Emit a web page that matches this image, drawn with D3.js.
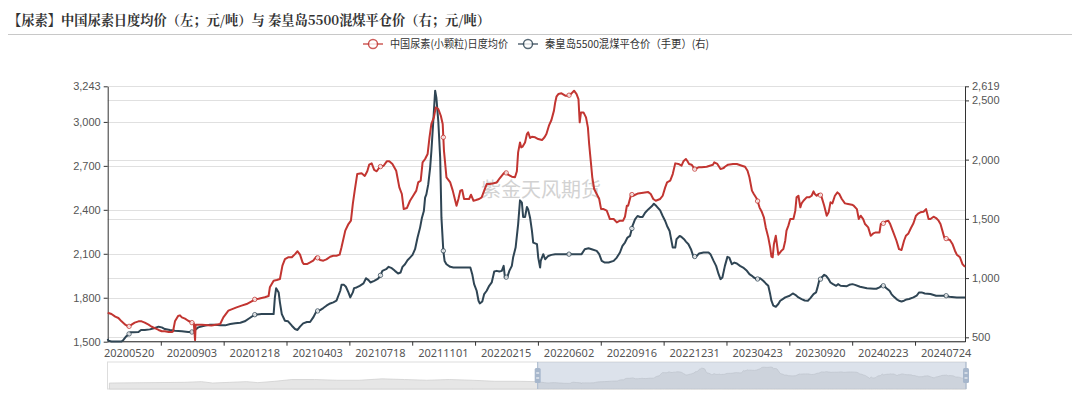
<!DOCTYPE html>
<html>
<head>
<meta charset="utf-8">
<script src="https://cdn.jsdelivr.net/npm/d3@7"></script>
<style>
  body { margin: 0; background: #fff; }
  svg { display: block; font-family: "Noto Sans", "Noto Sans CJK SC", sans-serif; }
</style>
</head>
<body>
<svg id="chart" width="1080" height="394"></svg>
<script>
// category axis: 1365 daily categories in view, labelled every 100
const xLabels = ['20200520','20200903','20201218','20210403','20210718','20211101','20220215',
                 '20220602','20220916','20221231','20230423','20230920','20240223','20240724'];
const leftTicks = [1500, 1800, 2100, 2400, 2700, 3000, 3243];
const rightTicks = [500, 1000, 1500, 2000, 2500, 2619];

// [category index, value]
const urea = [[0,1698],[6,1689],[12,1671],[17,1662],[22,1639],[28,1616],[33,1602],[38,1616],[43,1630],[49,1639],[54,1639],[59,1630],[65,1616],[70,1602],[75,1593],[81,1580],[86,1571],[91,1571],[97,1566],[102,1566],[104,1571],[107,1639],[112,1675],[115,1680],[118,1666],[123,1657],[128,1643],[134,1630],[137,1625],[139,1511],[140,1616],[150,1616],[165,1611],[179,1621],[184,1666],[192,1712],[197,1721],[205,1734],[213,1746],[221,1757],[229,1775],[234,1789],[240,1793],[250,1803],[256,1812],[258,1871],[264,1916],[269,1921],[274,1928],[278,2019],[282,2064],[287,2076],[293,2076],[298,2098],[302,2117],[306,2094],[310,2041],[312,2030],[317,2030],[322,2041],[327,2053],[332,2080],[338,2057],[343,2053],[348,2062],[354,2080],[359,2087],[364,2087],[369,2094],[372,2144],[378,2258],[383,2303],[387,2326],[390,2440],[393,2531],[397,2644],[404,2649],[409,2631],[413,2663],[416,2708],[420,2717],[424,2672],[428,2663],[433,2694],[439,2701],[444,2731],[448,2731],[453,2713],[459,2667],[464,2553],[468,2508],[471,2405],[476,2412],[481,2462],[486,2496],[491,2531],[494,2587],[498,2599],[501,2724],[505,2747],[509,2781],[512,2895],[515,2986],[519,3031],[522,3099],[526,3088],[530,3042],[533,2986],[535,2804],[539,2622],[545,2587],[549,2531],[553,2462],[555,2428],[558,2474],[561,2531],[564,2535],[567,2474],[575,2474],[578,2503],[582,2462],[586,2467],[591,2474],[595,2485],[599,2531],[603,2576],[608,2576],[614,2581],[619,2587],[624,2617],[630,2649],[633,2656],[637,2640],[643,2626],[648,2622],[651,2663],[653,2792],[656,2860],[658,2826],[660,2831],[664,2860],[667,2917],[669,2929],[672,2890],[675,2899],[680,2895],[685,2883],[691,2876],[695,2895],[698,2917],[702,2974],[706,3013],[710,3077],[712,3133],[714,3172],[717,3190],[722,3195],[728,3179],[733,3179],[738,3195],[742,3213],[746,3190],[749,3156],[751,2997],[753,3065],[757,3065],[761,3031],[764,2963],[766,2849],[769,2713],[771,2622],[774,2542],[778,2508],[782,2474],[785,2405],[789,2405],[794,2394],[797,2360],[799,2337],[805,2337],[810,2314],[815,2326],[820,2326],[823,2353],[826,2428],[828,2428],[833,2508],[836,2496],[844,2512],[852,2517],[860,2521],[864,2508],[868,2474],[872,2462],[879,2474],[883,2496],[887,2553],[890,2587],[895,2599],[899,2644],[903,2717],[908,2713],[913,2701],[916,2731],[920,2747],[922,2735],[925,2713],[929,2708],[934,2678],[940,2690],[945,2690],[953,2694],[958,2701],[963,2708],[965,2724],[970,2713],[975,2678],[980,2685],[982,2694],[987,2708],[995,2713],[1001,2713],[1009,2701],[1014,2694],[1018,2667],[1021,2622],[1025,2531],[1028,2508],[1033,2474],[1037,2417],[1041,2383],[1044,2349],[1047,2280],[1051,2212],[1054,2144],[1056,2080],[1058,2076],[1060,2167],[1063,2223],[1064,2189],[1067,2094],[1070,2110],[1072,2121],[1075,2132],[1078,2189],[1080,2258],[1083,2292],[1086,2337],[1091,2337],[1094,2394],[1096,2485],[1099,2496],[1102,2417],[1104,2444],[1107,2462],[1112,2485],[1116,2485],[1120,2496],[1123,2526],[1125,2508],[1128,2496],[1131,2508],[1133,2508],[1136,2485],[1140,2428],[1144,2360],[1147,2383],[1150,2451],[1153,2444],[1157,2496],[1161,2519],[1164,2508],[1168,2474],[1173,2444],[1178,2440],[1184,2435],[1187,2428],[1192,2405],[1195,2337],[1198,2360],[1202,2337],[1205,2303],[1210,2280],[1214,2223],[1218,2239],[1222,2246],[1228,2246],[1230,2303],[1234,2308],[1238,2321],[1242,2326],[1245,2303],[1250,2246],[1255,2189],[1259,2132],[1263,2126],[1267,2189],[1270,2223],[1274,2239],[1278,2276],[1282,2308],[1286,2360],[1290,2376],[1293,2383],[1298,2387],[1302,2405],[1306,2337],[1309,2337],[1314,2353],[1318,2344],[1322,2326],[1325,2303],[1328,2258],[1331,2212],[1335,2201],[1340,2194],[1344,2167],[1348,2121],[1351,2094],[1356,2076],[1360,2030],[1364,2010]];

const coal = [[0,486],[1,472],[6,464],[22,464],[25,478],[29,506],[33,522],[36,542],[41,542],[49,545],[53,562],[59,562],[67,567],[75,579],[81,590],[86,584],[91,570],[99,562],[107,556],[118,551],[128,545],[135,545],[139,562],[144,584],[152,595],[163,607],[171,607],[179,601],[187,601],[195,612],[203,618],[211,623],[218,635],[226,663],[234,691],[245,696],[256,696],[264,696],[266,837],[268,915],[272,879],[274,795],[277,696],[282,640],[287,635],[293,598],[298,570],[302,562],[306,590],[311,618],[317,629],[322,629],[327,668],[332,719],[338,730],[343,747],[348,767],[354,786],[359,795],[364,809],[370,893],[372,943],[376,943],[379,927],[383,879],[386,837],[390,879],[392,915],[396,921],[401,935],[407,955],[411,999],[415,983],[418,963],[424,977],[429,991],[433,1011],[437,1061],[443,1075],[447,1095],[452,1084],[457,1061],[462,1039],[466,1047],[469,1095],[473,1117],[477,1151],[481,1173],[485,1196],[489,1244],[493,1342],[497,1426],[500,1510],[503,1566],[505,1679],[507,1707],[510,1791],[513,1931],[515,2071],[518,2324],[521,2582],[523,2520],[526,2324],[529,2015],[531,1510],[534,1230],[536,1145],[539,1117],[545,1095],[550,1089],[577,1089],[580,1033],[583,949],[587,893],[590,809],[592,786],[596,803],[599,865],[603,893],[607,935],[611,963],[615,1056],[619,1061],[623,1056],[627,1061],[630,1103],[632,1005],[636,1011],[639,1061],[643,1103],[645,1173],[649,1258],[653,1454],[656,1656],[659,1636],[661,1516],[664,1516],[667,1600],[669,1580],[672,1510],[675,1398],[677,1300],[683,1286],[685,1173],[688,1089],[689,1145],[693,1202],[696,1159],[701,1187],[706,1196],[712,1202],[754,1202],[759,1244],[765,1252],[770,1244],[778,1230],[782,1202],[786,1145],[791,1131],[797,1131],[805,1145],[810,1173],[815,1216],[819,1272],[823,1300],[827,1342],[831,1356],[835,1440],[839,1496],[843,1524],[847,1516],[851,1516],[855,1552],[860,1580],[866,1608],[869,1628],[873,1608],[879,1572],[883,1524],[887,1482],[890,1440],[894,1398],[896,1342],[899,1258],[903,1258],[905,1328],[910,1356],[913,1347],[917,1328],[920,1308],[924,1286],[928,1244],[932,1179],[937,1187],[941,1207],[948,1216],[956,1216],[959,1202],[964,1145],[968,1103],[972,1033],[975,991],[978,1005],[982,1103],[986,1179],[989,1173],[993,1117],[997,1131],[1001,1123],[1006,1103],[1011,1089],[1017,1061],[1021,1033],[1025,1019],[1028,1005],[1033,991],[1038,999],[1043,977],[1047,955],[1051,935],[1054,865],[1056,809],[1059,767],[1063,758],[1067,781],[1070,809],[1074,823],[1078,837],[1085,851],[1090,870],[1094,859],[1099,837],[1104,823],[1109,811],[1114,809],[1118,831],[1123,865],[1127,879],[1129,915],[1132,977],[1136,1005],[1140,1028],[1143,1019],[1147,991],[1150,963],[1154,949],[1159,935],[1162,949],[1166,935],[1176,932],[1180,943],[1185,949],[1189,943],[1197,927],[1208,915],[1219,910],[1223,910],[1228,921],[1231,935],[1235,935],[1239,915],[1244,893],[1247,865],[1251,842],[1255,823],[1259,809],[1263,803],[1267,809],[1271,820],[1275,823],[1282,837],[1287,851],[1291,879],[1295,879],[1300,870],[1309,865],[1318,851],[1334,851],[1339,842],[1351,837],[1364,837]];

// earlier urea history, only visible as the slider's data shadow
const ureaEarly = [[-1364,1601],[-1124,1672],[-1071,1743],[-1035,1601],[-981,1672],[-927,1743],[-891,1640],[-837,1778],[-783,1955],[-711,1955],[-640,1884],[-568,1884],[-496,2026],[-424,1955],[-353,1884],[-281,1955],[-209,1884],[-137,1778],[-66,1778],[-3,1743]];

const red = '#c23531', navy = '#2f4554';
const svg = d3.select('#chart');

const pLeft = 107.7, pRight = 965, pTop = 86.3, pBottom = 341.7;
let x = d3.scaleLinear().domain([0, 1364]).range([pLeft, pRight]);
let yL = d3.scaleLinear().domain([1500, 3243]).range([pBottom, pTop]);
let yR = d3.scaleLinear().domain([463, 2619]).range([pBottom, pTop]);

// title
svg.append('text')
    .attr('x', 8).attr('y', 25)
    .attr('font-family', '"Noto Serif CJK SC", "Noto Sans CJK SC", serif')
    .attr('font-size', 13.5).attr('font-weight', 'bold').attr('fill', '#333')
    .attr('textLength', 482).attr('lengthAdjust', 'spacingAndGlyphs')
    .text('【尿素】中国尿素日度均价（左；元/吨）与 秦皇岛5500混煤平仓价（右；元/吨）');
svg.append('line')
    .attr('x1', 8).attr('x2', 1072).attr('y1', 34.5).attr('y2', 34.5)
    .attr('stroke', '#c8c8c8');

// legend
let legend = [
    {name: '中国尿素(小颗粒)日度均价', color: red, x: 363, w: 118},
    {name: '秦皇岛5500混煤平仓价（手更）(右)', color: navy, x: 518, w: 164}
];
for (let l of legend){
    let g = svg.append('g').attr('transform', `translate(${l.x},44)`);
    g.append('line').attr('x1', 0).attr('x2', 20).attr('stroke', l.color).attr('stroke-width', 1.5).attr('opacity', 0.8);
    g.append('circle').attr('cx', 10).attr('r', 4.5).attr('fill', '#fff').attr('stroke', l.color).attr('stroke-width', 1.5).attr('opacity', 0.8);
    g.append('text').attr('x', 27).attr('y', 4).attr('font-size', 11).attr('fill', '#333')
        .attr('font-family', '"Noto Sans CJK SC", sans-serif')
        .attr('textLength', l.w).attr('lengthAdjust', 'spacingAndGlyphs')
        .text(l.name);
}

// grid lines for both axes
for (let t of leftTicks){
    svg.append('line').attr('x1', pLeft).attr('x2', pRight)
        .attr('y1', Math.round(yL(t)) + 0.5).attr('y2', Math.round(yL(t)) + 0.5)
        .attr('stroke', '#e0e0e0');
}
for (let t of rightTicks){
    svg.append('line').attr('x1', pLeft).attr('x2', pRight)
        .attr('y1', Math.round(yR(t)) + 0.5).attr('y2', Math.round(yR(t)) + 0.5)
        .attr('stroke', '#e0e0e0');
}

// watermark
svg.append('text')
    .attr('x', 541).attr('y', 197).attr('text-anchor', 'middle')
    .attr('font-family', '"Noto Sans CJK SC", sans-serif')
    .attr('font-size', 20).attr('fill', '#c8c8c8').attr('opacity', 0.8)
    .text('紫金天风期货');

// axes
let axL = svg.append('g').attr('transform', `translate(${pLeft},0)`)
    .call(d3.axisLeft(yL).tickValues(leftTicks).tickFormat(d3.format(',')).tickSize(4).tickSizeOuter(0));
let axR = svg.append('g').attr('transform', `translate(${pRight},0)`)
    .call(d3.axisRight(yR).tickValues(rightTicks).tickFormat(d3.format(',')).tickSize(4).tickSizeOuter(0));
let tickIdx = d3.range(12 + 1).map(i => 84.5 + 100 * i);
let axB = svg.append('g').attr('transform', `translate(0,${pBottom})`)
    .call(d3.axisBottom(x).tickValues(tickIdx).tickFormat('').tickSize(4).tickSizeOuter(0));
for (let ax of [axL, axR, axB]){
    ax.select('.domain').attr('stroke', '#333');
    ax.selectAll('.tick line').attr('stroke', '#333');
    ax.selectAll('.tick text').attr('fill', '#555').attr('font-size', 11);
}
axB.select('.domain').attr('d', `M${pLeft},0H${pRight}`);
axL.selectAll('.tick text').attr('x', -7);
axR.selectAll('.tick text').attr('x', 7);

svg.append('g').selectAll('text')
    .data(xLabels)
    .join('text')
    .attr('x', (d, i) => x(34 + 100 * i))
    .attr('y', pBottom + 15)
    .attr('text-anchor', 'middle')
    .attr('font-size', 11).attr('fill', '#555')
    .text(d => d);

// series
let valueAt = (pts, i) => {
    let j = d3.bisector(p => p[0]).left(pts, i);
    if (j <= 0) return pts[0][1];
    if (j >= pts.length) return pts[pts.length - 1][1];
    let a = pts[j - 1], b = pts[j];
    return a[1] + (b[1] - a[1]) * (i - a[0]) / (b[0] - a[0]);
};
let series = [
    {pts: coal, y: yR, color: navy},
    {pts: urea, y: yL, color: red}
];
for (let s of series){
    svg.append('path')
        .attr('fill', 'none')
        .attr('stroke', s.color)
        .attr('stroke-width', 2)
        .attr('stroke-linejoin', 'round')
        .attr('d', d3.line().x(d => x(d[0])).y(d => s.y(d[1]))(s.pts));
    for (let k = 0; k < 14; k++){
        let i = 34 + 100 * k;
        svg.append('circle')
            .attr('cx', x(i)).attr('cy', s.y(valueAt(s.pts, i)))
            .attr('r', 2.2).attr('fill', '#fff')
            .attr('stroke', s.color).attr('stroke-width', 1).attr('opacity', 0.8);
    }
}

// ********* data zoom slider **********
let sTop = 362, sBot = 389, sLeft = 107.5, sRight = 966;
let xs = d3.scaleLinear().domain([-1370, 1364]).range([sLeft, sRight]);
let full = ureaEarly.concat(urea);
let ext = d3.extent(full, d => d[1]);
let pad = (ext[1] - ext[0]) * 0.3;
let ys = d3.scaleLinear().domain([ext[0] - pad, ext[1] + pad]).range([sBot, sTop]);

svg.append('rect')
    .attr('x', sLeft).attr('y', sTop).attr('width', sRight - sLeft).attr('height', sBot - sTop)
    .attr('fill', 'none').attr('stroke', '#ddd');
svg.append('path')
    .attr('fill', '#e6e6e6').attr('stroke', '#d0d0d0').attr('stroke-width', 0.8)
    .attr('d', d3.area().x(d => xs(d[0])).y0(sBot).y1(d => ys(d[1]))(full));
let selX = xs(0);
svg.append('rect')
    .attr('x', selX).attr('y', sTop).attr('width', sRight - selX).attr('height', sBot - sTop)
    .attr('fill', 'rgba(167,183,204,0.4)');
for (let hx of [selX, sRight]){
    svg.append('line').attr('x1', hx).attr('x2', hx).attr('y1', sTop).attr('y2', sBot)
        .attr('stroke', '#a7b7cc').attr('stroke-width', 1);
    svg.append('rect')
        .attr('x', hx - 3).attr('y', sTop + 6).attr('width', 6).attr('height', 15).attr('rx', 1.5)
        .attr('fill', '#a7b7cc');
    for (let dy of [11, 16]){
        svg.append('line').attr('x1', hx - 1.5).attr('x2', hx + 1.5)
            .attr('y1', sTop + dy).attr('y2', sTop + dy).attr('stroke', '#fff');
    }
}
</script>
</body>
</html>
